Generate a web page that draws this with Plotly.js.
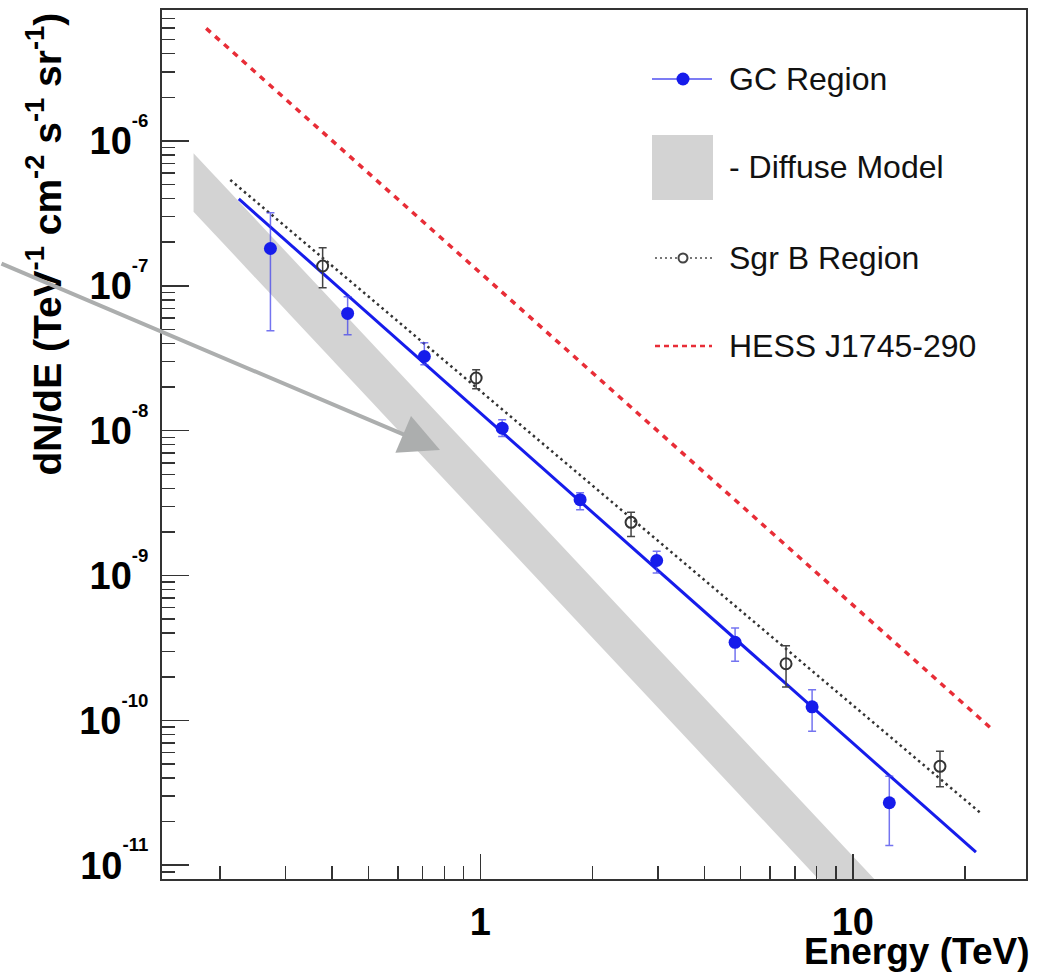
<!DOCTYPE html>
<html>
<head>
<meta charset="utf-8">
<script src="https://cdn.plot.ly/plotly-3.0.1.min.js"></script>
<style>html,body{margin:0;padding:0;background:#fff;}#chart{width:1042px;height:972px;}</style>
</head>
<body>
<div id="chart"></div>
<script>
// ---- data ----
const gcE    = [0.273, 0.440, 0.707, 1.144, 1.852, 2.974, 4.829, 7.774, 12.53];
const gcFlux = [1.81e-7, 6.45e-8, 3.25e-8, 1.04e-8, 3.34e-9, 1.27e-9, 3.46e-10, 1.24e-10, 2.70e-11];
const gcHi   = [3.19e-7, 8.39e-8, 4.04e-8, 1.19e-8, 3.73e-9, 1.47e-9, 4.34e-10, 1.63e-10, 4.11e-11];
const gcLo   = [4.89e-8, 4.59e-8, 2.85e-8, 9.12e-9, 2.85e-9, 1.04e-9, 2.56e-10, 8.41e-11, 1.37e-11];

const sgrE    = [0.377, 0.974, 2.538, 6.617, 17.14];
const sgrFlux = [1.37e-7, 2.31e-8, 2.33e-9, 2.46e-10, 4.82e-11];
const sgrHi   = [1.83e-7, 2.63e-8, 2.73e-9, 3.28e-10, 6.12e-11];
const sgrLo   = [9.68e-8, 1.95e-8, 1.86e-9, 1.70e-10, 3.48e-11];

const gcFitE     = [0.2245, 21.41];
const gcFitFlux  = [3.98e-7, 1.23e-11];
const sgrFitE    = [0.2130, 22.0];
const sgrFitFlux = [5.38e-7, 2.30e-11];
const hessE      = [0.1835, 23.84];
const hessFlux   = [5.99e-6, 8.54e-11];
const diffuseE    = [0.1697, 11.42, 8.08, 0.1697];
const diffuseFlux = [8.23e-7, 8.03e-12, 8.03e-12, 3.25e-7];

const xMajor = [1, 10];
const xMajorText = ['1', '10'];
const xMinor = [0.2,0.3,0.4,0.5,0.6,0.7,0.8,0.9,2,3,4,5,6,7,8,9,20];
const yExp = [-11, -10, -9, -8, -7, -6];

const legendNames = ['GC Region', '- Diffuse Model', 'Sgr B Region', 'HESS J1745-290'];

// ---- build ticks ----
const yMajor = yExp.map(e => Math.pow(10, e));
const yMajorText = yExp.map(e => '10<sup><sup>' + e + '</sup></sup>');
const yMinor = [];
for (let e = -12; e <= -6; e++) {
  for (let m = 2; m <= 9; m++) {
    const v = m * Math.pow(10, e);
    const l = Math.log10(v);
    if (l > -11.095 && l < -5.096) yMinor.push(v);
  }
}

const FONT = 'Liberation Sans, Arial, Helvetica, sans-serif';
const BLUE = 'rgb(22,28,235)';
const RED = 'rgb(232,45,55)';

const traces = [
  { x: diffuseE, y: diffuseFlux, mode: 'lines', fill: 'toself', fillcolor: 'rgb(211,211,211)',
    line: {width: 0, color: 'rgb(211,211,211)'}, hoverinfo: 'skip', showlegend: false },
  { x: hessE, y: hessFlux, mode: 'lines', line: {color: RED, width: 3.5, dash: '6px,6px'}, showlegend: false },
  { x: sgrFitE, y: sgrFitFlux, mode: 'lines', line: {color: '#333', width: 2.5, dash: '2.5px,3.5px'}, showlegend: false },
  { x: gcFitE, y: gcFitFlux, mode: 'lines', line: {color: BLUE, width: 3}, showlegend: false },
  { x: gcE, y: gcFlux, mode: 'markers', marker: {symbol: 'circle', size: 13, color: BLUE},
    error_y: {type: 'data', symmetric: false,
      array: gcHi.map((h, i) => h - gcFlux[i]),
      arrayminus: gcLo.map((l, i) => gcFlux[i] - l),
      color: 'rgba(70,70,235,0.75)', thickness: 1.5, width: 4},
    showlegend: false },
  { x: sgrE, y: sgrFlux, mode: 'markers', marker: {symbol: 'circle-open', size: 11, color: '#333', line: {width: 2}},
    error_y: {type: 'data', symmetric: false,
      array: sgrHi.map((h, i) => h - sgrFlux[i]),
      arrayminus: sgrLo.map((l, i) => sgrFlux[i] - l),
      color: '#444', thickness: 1.5, width: 4},
    showlegend: false }
];

// pixel -> paper helpers for decorations (plot area 162..1026 x 10..879)
const L = 162, T = 10, W = 864, H = 869;
const px = v => (v - L) / W;
const py = v => (T + H - v) / H;

const rowY = [79, 167, 258, 346];
const shapes = [
  {type: 'line', xref: 'paper', yref: 'paper', x0: px(652), x1: px(712), y0: py(rowY[0]), y1: py(rowY[0]),
   line: {color: 'rgb(80,80,240)', width: 1.5}},
  {type: 'circle', xref: 'paper', yref: 'paper', xsizemode: 'pixel', ysizemode: 'pixel',
   xanchor: px(683), yanchor: py(rowY[0]), x0: -6.5, x1: 6.5, y0: -6.5, y1: 6.5,
   fillcolor: BLUE, line: {width: 0}},
  {type: 'rect', xref: 'paper', yref: 'paper', x0: px(652), x1: px(713), y0: py(200), y1: py(135),
   fillcolor: 'rgb(211,211,211)', line: {width: 0}},
  {type: 'line', xref: 'paper', yref: 'paper', x0: px(655), x1: px(712), y0: py(rowY[2]), y1: py(rowY[2]),
   line: {color: '#777', width: 2, dash: '2px,3px'}},
  {type: 'circle', xref: 'paper', yref: 'paper', xsizemode: 'pixel', ysizemode: 'pixel',
   xanchor: px(683), yanchor: py(rowY[2]), x0: -4.5, x1: 4.5, y0: -4.5, y1: 4.5,
   fillcolor: '#fff', line: {color: '#444', width: 2}},
  {type: 'line', xref: 'paper', yref: 'paper', x0: px(655), x1: px(712), y0: py(rowY[3]), y1: py(rowY[3]),
   line: {color: RED, width: 2.5, dash: '5px,4px'}}
];

const annotations = legendNames.map((t, i) => ({
  xref: 'paper', yref: 'paper', x: px(727), y: py(rowY[i]), xanchor: 'left', yanchor: 'middle',
  text: t, showarrow: false, font: {family: FONT, size: 32, color: '#111'}
}));

annotations.push({
  xref: 'paper', yref: 'paper', x: px(1031), y: py(951), xanchor: 'right', yanchor: 'middle',
  text: 'Energy (TeV)', showarrow: false, font: {family: FONT, size: 37, color: '#000', weight: 'bold'}
});
annotations.push({
  xref: 'paper', yref: 'paper', x: px(44), y: py(11), xanchor: 'center', yanchor: 'top', textangle: -90,
  text: 'dN/dE (TeV<sup>-1</sup> cm<sup>-2</sup> s<sup>-1</sup> sr<sup>-1</sup>)', showarrow: false,
  font: {family: FONT, size: 39, color: '#000', weight: 'bold'}
});
// pointer arrow
annotations.push({
  xref: 'paper', yref: 'paper', x: px(440), y: py(450), ax: -440, ay: -187,
  text: '', showarrow: true, arrowhead: 2, arrowsize: 2, arrowwidth: 4, arrowcolor: 'rgb(172,174,174)'
});

const axisCommon = {
  type: 'log', showgrid: false, zeroline: false, showline: true, linecolor: '#333', linewidth: 2,
  mirror: true, ticks: 'inside', tickcolor: '#333', tickwidth: 1.5,
  tickmode: 'array', tickfont: {family: FONT, size: 38, color: '#000', weight: 'bold'}
};

const layout = {
  width: 1042, height: 972, autosize: false,
  margin: {l: L, r: 1042 - L - W, t: T, b: 972 - T - H},
  paper_bgcolor: '#fff', plot_bgcolor: '#fff', showlegend: false,
  xaxis: Object.assign({}, axisCommon, {
    range: [-0.855, 1.465], tickvals: xMajor, ticktext: xMajorText, ticklen: 25, ticklabelstandoff: 8,
    minor: {tickmode: 'array', tickvals: xMinor, ticks: 'inside', ticklen: 13, tickwidth: 1.5, tickcolor: '#333', showgrid: false}
  }),
  yaxis: Object.assign({}, axisCommon, {
    range: [-11.095, -5.096], tickvals: yMajor, ticktext: yMajorText, ticklen: 27, ticklabelstandoff: 4,
    minor: {tickmode: 'array', tickvals: yMinor, ticks: 'inside', ticklen: 13, tickwidth: 1.5, tickcolor: '#333', showgrid: false}
  }),
  shapes: shapes,
  annotations: annotations
};

Plotly.newPlot('chart', traces, layout, {displayModeBar: false, staticPlot: true});
</script>
</body>
</html>
